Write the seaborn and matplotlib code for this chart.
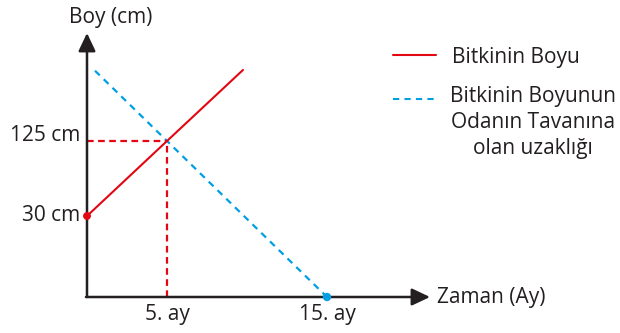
import numpy as np
import pandas as pd
import matplotlib
matplotlib.use("Agg")
import matplotlib.pyplot as plt
from matplotlib.lines import Line2D
import seaborn as sns

# data (months, cm); the drawing is schematic, not to scale
months_red = [0, 5, 9.75]
height_red = [30, 125, 215]
months_blue = [0.5, 15]
dist_blue = [214, -72.6]
cross_month = 5
cross_height = 125
start_height = 30
end_month = 15

xtick_vals = [5, 15]
xtick_labels = ["5. ay", "15. ay"]
ytick_vals = [30, 125]
ytick_labels = ["30 cm", "125 cm"]

RED = "#e30613"
BLUE = "#009fe3"
DARK = "#231f20"
FS = 15

sns.set_theme(style="white")
plt.rcParams['font.family'] = ['Open Sans', 'DejaVu Sans']
plt.rcParams['font.size'] = FS

W, H = 620, 333
fig = plt.figure(figsize=(W / 100, H / 100), dpi=100)
x0, y0, x1, y1 = 87, 297, 430, 33
ax = fig.add_axes([x0 / W, 1 - y0 / H, (x1 - x0) / W, (y0 - y1) / H])
ax.set_xlim(0, (x1 - x0) / 16)
ax.set_ylim(-72.6, 30 + (216 - 33) / 0.7895)
ybottom = ax.get_ylim()[0]

df_red = pd.DataFrame({"Ay": months_red, "Boy": height_red})
df_blue = pd.DataFrame({"Ay": months_blue, "Mesafe": dist_blue})

sns.lineplot(data=df_red, x="Ay", y="Boy", color=RED, lw=1.5, ax=ax, zorder=3)
sns.lineplot(data=df_blue, x="Ay", y="Mesafe", color=BLUE, lw=1.6, ax=ax,
             zorder=2, dashes=False, linestyle=(0, (3, 2.5)))

# helper lines at the crossing point
ax.plot([0, cross_month], [cross_height, cross_height], color=RED, lw=1.6,
        linestyle=(0, (3, 2)), zorder=2)
ax.plot([cross_month, cross_month], [ybottom, cross_height], color=RED, lw=1.6,
        linestyle=(0, (3, 2)), zorder=2)

sns.scatterplot(x=[0], y=[start_height], color=RED, s=32, edgecolor="none",
                ax=ax, zorder=8, clip_on=False)
sns.scatterplot(x=[end_month], y=[ybottom], color=BLUE, s=36, edgecolor="none",
                ax=ax, zorder=8, clip_on=False)

# axes with arrow heads
for s in ax.spines.values():
    s.set_visible(False)
arrow = dict(arrowstyle="-|>,head_length=0.55,head_width=0.26", color=DARK,
             lw=1.8, shrinkA=0, shrinkB=0, mutation_scale=20)
ax.annotate("", xy=(1, 0), xytext=(-0.003, 0), xycoords="axes fraction",
            arrowprops=arrow, zorder=6)
ax.annotate("", xy=(0, 1), xytext=(0, 0), xycoords="axes fraction",
            arrowprops=arrow, zorder=6)

ax.set_xticks(xtick_vals)
ax.set_xticklabels(xtick_labels)
ax.set_yticks(ytick_vals)
ax.set_yticklabels(ytick_labels)
ax.tick_params(axis="both", length=0, labelsize=FS, colors=DARK)
ax.tick_params(axis="x", pad=5)
ax.tick_params(axis="y", pad=5)
for lab, va in zip(ax.get_yticklabels(), ["center", "baseline"]):
    lab.set_va(va)
ax.set_xlabel("")
ax.set_ylabel("")
ax.grid(False)

fig.text(111 / W, 1 - 23 / H, "Boy (cm)", ha="center", va="baseline",
         fontsize=FS, color=DARK)
fig.text(437 / W, 1 - 297 / H, "Zaman (Ay)", ha="left", va="center",
         fontsize=FS, color=DARK)

# legend drawn by hand so the long label sits like the original
fig.add_artist(Line2D([393 / W, 436 / W], [1 - 55 / H] * 2, color=RED, lw=1.5,
                      transform=fig.transFigure))
fig.add_artist(Line2D([393 / W, 436 / W], [1 - 99 / H] * 2, color=BLUE, lw=1.5,
                      linestyle=(0, (3, 2.5)), transform=fig.transFigure))
fig.text(452 / W, 1 - 63 / H, "Bitkinin Boyu", ha="left", va="baseline",
         fontsize=FS, color=DARK)
fig.text(533 / W, 1 - 86 / H, "Bitkinin Boyunun\nOdanın Tavanına\nolan uzaklığı",
         ha="center", va="top", multialignment="center", linespacing=1.3,
         fontsize=FS, color=DARK)

fig.savefig("out.png", dpi=100)
